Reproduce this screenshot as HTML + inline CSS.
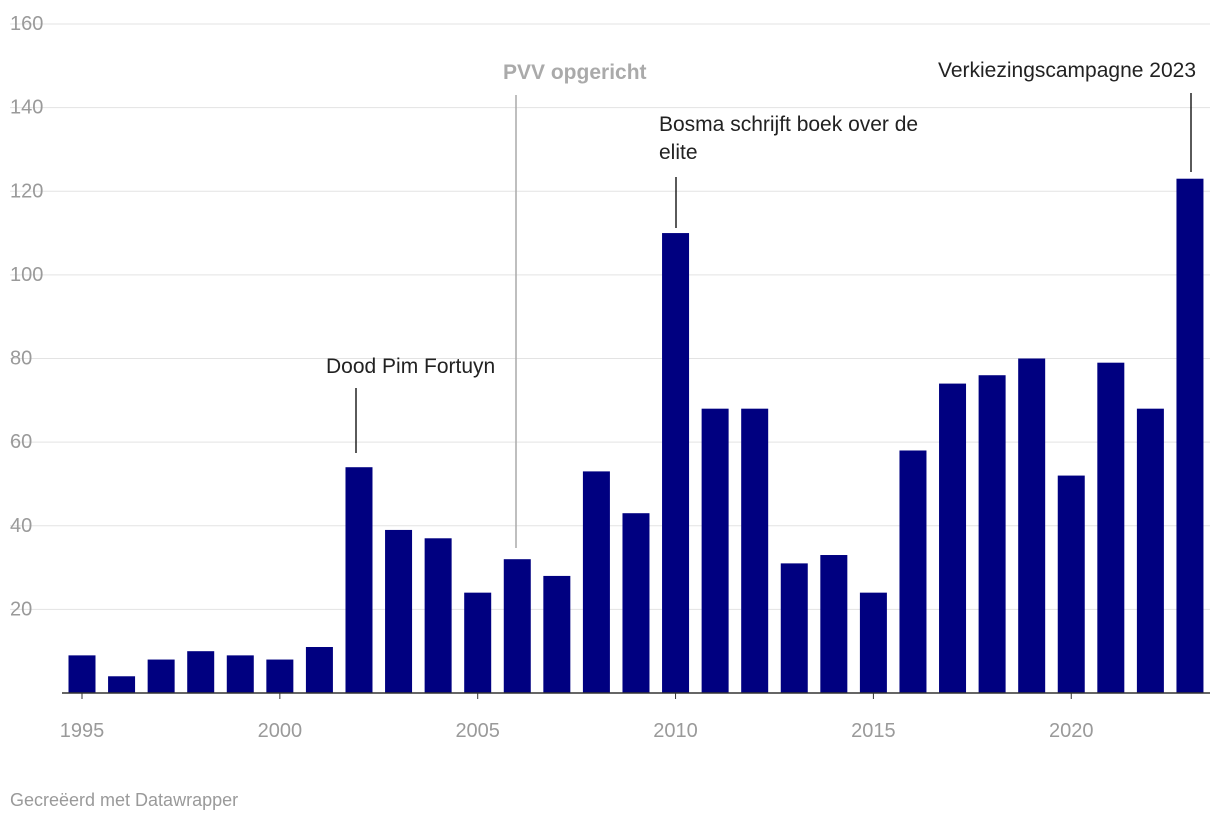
<!DOCTYPE html>
<html><head><meta charset="utf-8"><style>
body{margin:0;background:#fff;width:1220px;height:826px;overflow:hidden;font-family:"Liberation Sans",sans-serif}
</style></head><body>
<svg width="1220" height="826" id="chart" font-family="Liberation Sans, sans-serif"></svg>
<script>
const years=[1995,1996,1997,1998,1999,2000,2001,2002,2003,2004,2005,2006,2007,2008,2009,2010,2011,2012,2013,2014,2015,2016,2017,2018,2019,2020,2021,2022,2023];
const values=[9,4,8,10,9,8,11,54,39,37,24,32,28,53,43,110,68,68,31,33,24,58,74,76,80,52,79,68,123];
const yTicks=[20,40,60,80,100,120,140,160];
const xTicks=[1995,2000,2005,2010,2015,2020];
const svg=document.getElementById('chart');const NS='http://www.w3.org/2000/svg';
const y=v=>693-v*(669/160);
const x=yr=>82+(yr-1995)*39.57;
function mk(t,a,p){const e=document.createElementNS(NS,t);for(const k in a)e.setAttribute(k,a[k]);(p||svg).appendChild(e);return e;}
yTicks.forEach(v=>{
 const l=mk('line',{x1:10,x2:1210,y1:y(v),y2:y(v),stroke:'#e3e3e3','stroke-width':1});
 
 
 const t=mk('text',{x:10,y:y(v)+6,'font-size':20,fill:'#9a9a9a'});t.textContent=v;
 
 
});
years.forEach((yr,i)=>{
 const r=mk('rect',{x:x(yr)-13.5,y:y(values[i]),width:27,height:693-y(values[i]),fill:'#000080'});
 
 
});
const base=mk('line',{x1:62,x2:1210,y1:693,y2:693,stroke:'#333','stroke-width':1.5});


xTicks.forEach(yr=>{
 const tk=mk('line',{x1:x(yr),x2:x(yr),y1:693,y2:699,stroke:'#333'});
 
 
 const t=mk('text',{x:x(yr),y:737,'font-size':20,fill:'#9a9a9a','text-anchor':'middle'});t.textContent=yr;
 
 
});
function ann(name,lines,tx,ty,anchor,lx,l1,l2,color,bold){
 const g=mk('g',{});
 
 
 lines.forEach((s,i)=>{const t=mk('text',{x:tx,y:ty+i*28,'font-size':21,fill:color,'text-anchor':anchor,'font-weight':bold?'bold':'normal'},g);t.textContent=s;});
 mk('line',{x1:lx,x2:lx,y1:l1,y2:l2,stroke:color,'stroke-width':1.5},g);
}
ann('annotation-fortuyn',['Dood Pim Fortuyn'],326,373,'start',356,388,453,'#222',false);
ann('annotation-pvv',['PVV opgericht'],503,79,'start',516,95,548,'#aaaaaa',true);
ann('annotation-bosma',['Bosma schrijft boek over de','elite'],659,131,'start',676,177,228,'#222',false);
ann('annotation-2023',['Verkiezingscampagne 2023'],1196,77,'end',1191,93,172,'#222',false);
</script>
<div style="position:absolute;left:10px;top:790px;font-size:18px;color:#9a9a9a">Gecreëerd met Datawrapper</div>
</body></html>
